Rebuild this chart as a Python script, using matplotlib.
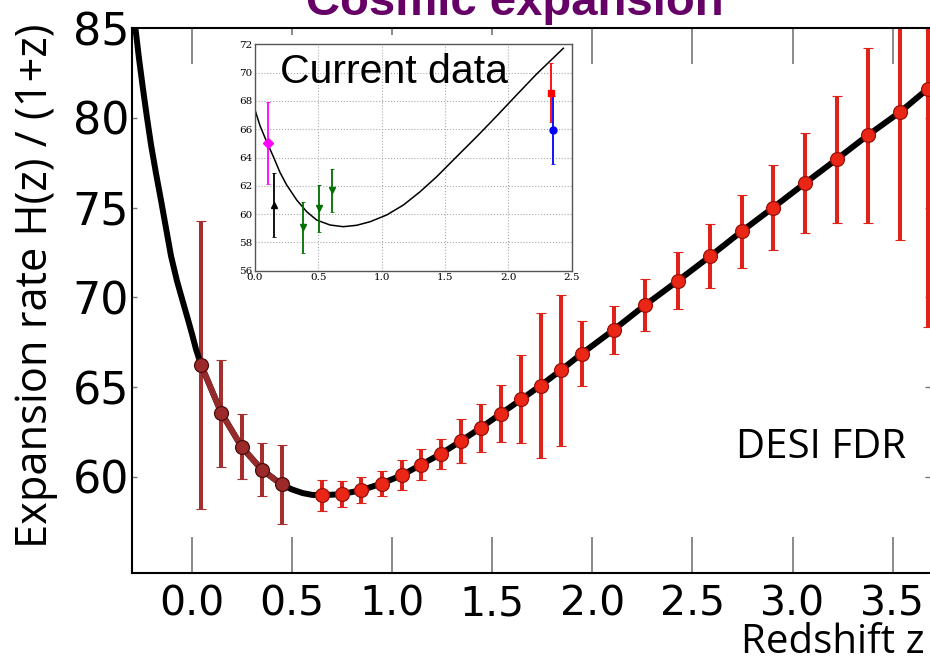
"""Cosmic expansion: H(z)/(1+z) with DESI FDR forecast errors and current data inset."""

import matplotlib

matplotlib.use("Agg")
import matplotlib.pyplot as plt
from matplotlib.transforms import blended_transform_factory


# main panel: model curve
curve_z = [-0.295, -0.283, -0.265, -0.245, -0.225, -0.205, -0.18, -0.155, -0.13,
           -0.105, -0.075, -0.047, -0.02, 0.0, 0.02, 0.045, 0.147, 0.248, 0.348,
           0.447, 0.5, 0.553, 0.6, 0.648, 0.747, 0.845, 0.947, 1.047, 1.146,
           1.245, 1.343, 1.443, 1.542, 1.645, 1.741, 1.841, 1.946, 2.106, 2.262,
           2.428, 2.587, 2.745, 2.903, 3.062, 3.22, 3.375, 3.537, 3.677, 3.72]
curve_h = [86.0, 85.0, 83.3, 81.6, 80.0, 78.5, 76.9, 75.4, 73.85,
           72.3, 70.9, 69.8, 68.75, 67.95, 67.1, 66.24, 63.55, 61.67, 60.41,
           59.58, 59.3, 59.1, 59.0, 58.98, 59.04, 59.26, 59.63, 60.09, 60.69,
           61.30, 62.00, 62.74, 63.52, 64.32, 65.09, 65.93, 66.86, 68.19, 69.56,
           70.93, 72.28, 73.67, 75.00, 76.36, 77.69, 79.02, 80.32, 81.63, 81.95]

# low-z DESI points (dark red)
lowz_z = [0.045, 0.147, 0.248, 0.348, 0.447]
lowz_h = [66.24, 63.55, 61.67, 60.41, 59.58]
lowz_err = [8.0, 2.97, 1.81, 1.47, 2.2]

# DESI points (red)
desi_z = [0.648, 0.747, 0.845, 0.947, 1.047, 1.146, 1.245, 1.343, 1.443, 1.542,
          1.645, 1.741, 1.841, 1.946, 2.106, 2.262, 2.428, 2.587, 2.745, 2.903,
          3.062, 3.22, 3.375, 3.537, 3.677]
desi_h = [58.98, 59.04, 59.26, 59.63, 60.09, 60.69, 61.30, 62.00, 62.74, 63.52,
          64.32, 65.09, 65.93, 66.86, 68.19, 69.56, 70.93, 72.28, 73.67, 75.00,
          76.36, 77.69, 79.02, 80.32, 81.63]
desi_err = [0.86, 0.71, 0.73, 0.70, 0.84, 0.85, 0.84, 1.25, 1.33, 1.6,
            2.45, 4.05, 4.2, 1.8, 1.33, 1.46, 1.6, 1.78, 2.03, 2.37,
            2.8, 3.54, 4.88, 7.13, 13.3]

x_ticks = [0.0, 0.5, 1.0, 1.5, 2.0, 2.5, 3.0, 3.5]
y_ticks = [60, 65, 70, 75, 80, 85]

# inset: current data
inset_curve_z = [0.0, 0.04, 0.092, 0.145, 0.197, 0.25, 0.329, 0.408, 0.487,
                 0.592, 0.697, 0.803, 0.908, 1.04, 1.171, 1.303, 1.434, 1.592,
                 1.75, 1.908, 2.065, 2.223, 2.434]
inset_curve_h = [67.36, 66.23, 65.12, 64.06, 62.95, 62.06, 61.0, 60.17, 59.58,
                 59.23, 59.11, 59.21, 59.46, 59.94, 60.64, 61.58, 62.64, 64.06,
                 65.47, 66.93, 68.42, 69.9, 71.72]
inset_sets = [
    # (z, H, err, color, marker)
    ([0.105], [65.05], [2.9], "#ff00ff", "D"),
    ([0.152], [60.64], [2.28], "black", "^"),
    ([0.381, 0.508, 0.61], [59.07, 60.41, 61.70], [1.82, 1.64, 1.52], "#007000", "v"),
    ([2.335], [68.58], [2.08], "#ff0000", "s"),
    ([2.355], [65.94], [2.39], "#0000ff", "o"),
]

W, H = 930, 663


def px_box(left, top, right, bottom):
    """Figure-fraction rect from pixel edges."""
    return [left / W, 1 - bottom / H, (right - left) / W, (bottom - top) / H]


fig = plt.figure(figsize=(W / 100, H / 100), dpi=100)
fig.patch.set_facecolor("white")

ax = fig.add_axes(px_box(132, 28, 930, 573))
ax.set_zorder(1)

ax.errorbar(lowz_z, lowz_h, yerr=lowz_err, fmt="none", ecolor="#a3302f",
            elinewidth=2.9, capsize=3.6, capthick=0.8, zorder=2)
ax.errorbar(desi_z, desi_h, yerr=desi_err, fmt="none", ecolor="#de231a",
            elinewidth=2.9, capsize=3.6, capthick=0.8, zorder=2)
ax.plot(curve_z, curve_h, color="black", lw=4.3, solid_joinstyle="round", zorder=3)
ax.plot(lowz_z, lowz_h, color="#962b2b", lw=4.3, marker="o", ms=10,
        mfc="#9c2a2a", mec="#4a0c0c", mew=0.9, zorder=4)
ax.plot(desi_z, desi_h, ls="none", marker="o", ms=10,
        mfc="#ea2717", mec="#9a1008", mew=0.9, zorder=4)

ax.set_xlim(-0.30, 3.6865)
ax.set_ylim(54.65, 85)
ax.set_xticks(x_ticks)
ax.set_xticklabels([])
ax.set_yticks(y_ticks)
ax.tick_params(axis="x", direction="in", length=26, width=1.2, color="#777777",
               top=True)
ax.tick_params(axis="y", direction="in", length=3.6, width=1, color="#777777",
               right=True, labelsize=32, pad=2)
for side in ("left", "bottom", "top"):
    ax.spines[side].set_linewidth(1.5)
ax.spines["right"].set_visible(False)

# x tick labels on a common baseline below the axis
xlab_tf = blended_transform_factory(ax.transData, ax.transAxes)
for t in x_ticks:
    ax.text(t, -42 / 545, f"{t:.1f}", transform=xlab_tf, fontsize=29.5,
            ha="center", va="baseline", clip_on=False)

# white backing for the pasted inset
box = fig.add_axes(px_box(232, 35, 590, 292))
box.set_zorder(2)
box.set_facecolor("white")
box.set_xticks([])
box.set_yticks([])
for sp in box.spines.values():
    sp.set_visible(False)

ins = fig.add_axes(px_box(255, 44.3, 571.7, 270.7))
ins.set_zorder(3)
ins.plot(inset_curve_z, inset_curve_h, color="black", lw=1.1)
for z, h, e, c, m in inset_sets:
    ins.errorbar(z, h, yerr=e, fmt=m, color=c, ms=5, elinewidth=1.3,
                 capsize=1.5, capthick=0.6, mec=c)
ins.set_xlim(0, 2.5)
ins.set_ylim(56, 72)
ins.set_xticks([0.0, 0.5, 1.0, 1.5, 2.0, 2.5])
ins.set_yticks(range(56, 73, 2))
ins.grid(True, ls=":", color="#aaaaaa", lw=0.8)
ins.tick_params(direction="in", length=0, labelsize=7.5, pad=2)
for lbl in ins.get_xticklabels() + ins.get_yticklabels():
    lbl.set_family("DejaVu Serif")
for sp in ins.spines.values():
    sp.set_color("#555555")
    sp.set_linewidth(1)

fig.text(280 / W, 1 - 83 / H, "Current data", family="Liberation Sans",
         fontsize=29.5, ha="left", va="baseline", zorder=10)
fig.text(0.554, 1 - 15 / H, "Cosmic expansion", family="Liberation Sans",
         fontsize=34, fontweight="bold", color="#660066", ha="center", va="baseline")
fig.text(736 / W, 1 - 458 / H, "DESI FDR", family="Open Sans", fontsize=29,
         ha="left", va="baseline")
fig.text(925 / W, 1 - 653 / H, "Redshift z", family="Open Sans", fontsize=29,
         ha="right", va="baseline")
fig.text(36 / W, 1 - 286 / H, "Expansion rate H(z) / (1+z)", family="Open Sans",
         fontsize=31.2, rotation=90, ha="center", va="center")

fig.savefig("out.png", dpi=100)
